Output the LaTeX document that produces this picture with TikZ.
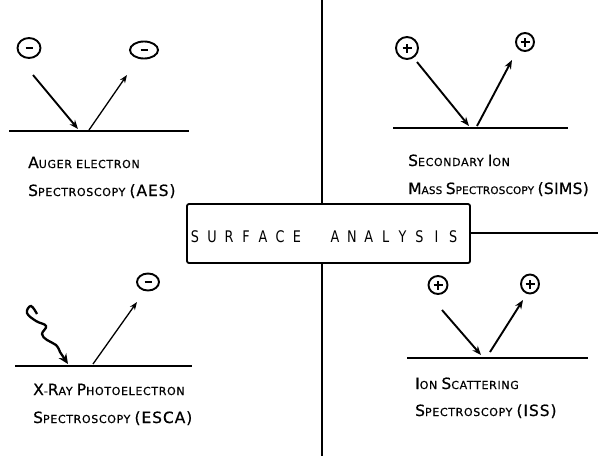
\documentclass[tikz,border=0pt]{standalone}
\usepackage{fontspec}
\setmainfont{DejaVu Sans}[LetterSpace=6,FakeBold=0.6]
\newfontfamily\titlefont{DejaVu Sans}[FakeStretch=0.8]
\usetikzlibrary{arrows.meta,shapes.geometric}
\newcommand\Bc[1]{{\fontsize{15.5}{16}\selectfont #1}}
\tikzset{
  lbl/.style={anchor=base west,inner sep=0pt,font=\fontsize{11}{12}\selectfont},
  surf/.style={line width=1.6pt},
  arr/.style={line width=1.9pt,-{Stealth[length=9pt,width=7pt]}},
  thinarr/.style={line width=1.3pt,-{Stealth[length=8pt,width=6pt]}},
  charge/.style={draw,ellipse,line width=1.9pt,inner sep=0pt},
  minus/.style={path picture={\draw[line width=1.8pt]
     ([xshift=-3.5pt]path picture bounding box.center) -- ([xshift=3.5pt]path picture bounding box.center);}},
  plus/.style={path picture={\draw[line width=1.8pt]
     ([xshift=-4.5pt]path picture bounding box.center) -- ([xshift=4.5pt]path picture bounding box.center)
     ([yshift=-4.5pt]path picture bounding box.center) -- ([yshift=4.5pt]path picture bounding box.center);}},
  mainbox/.style={draw,fill=white,line width=1.8pt,minimum width=283pt,minimum height=59pt,inner sep=0pt,rounded corners=2pt},
  letter/.style={anchor=base,inner sep=0pt,font=\titlefont\fontsize{16}{16}\selectfont},
  divider/.style={line width=1.3pt},
}
\begin{document}
\begin{tikzpicture}[x=1pt,y=-1pt]
\useasboundingbox (0,0) rectangle (598,461);

% dividing lines, then the central box over them
\coordinate (topend) at (322,0);
\coordinate (botend) at (322,456);
\coordinate (rightend) at (598,233);
\coordinate (boxtop) at (322,204);
\coordinate (boxbot) at (322,263);
\coordinate (boxright) at (470,233);
\draw[divider] (topend) -- (boxtop);
\draw[divider] (boxbot) -- (botend);
\draw[divider] (boxright) -- (rightend);
\node[mainbox] (box) at (328.5,233.5) {};

% widely spaced title letters
\foreach \ch [count=\i from 0] in {S,U,R,F,A,C,E}
  \node[letter] (ta\i) at (195+17*\i,242) {\ch};
\foreach \ch [count=\i from 0] in {A,N,A,L,Y,S,I,S}
  \node[letter] (tb\i) at (335+16.9*\i,242) {\ch};

% Auger electron spectroscopy
\node[charge,minus,minimum width=23pt,minimum height=20pt] (aesin) at (29,48) {};
\node[charge,minus,minimum width=28pt,minimum height=17pt] (aesout) at (144,50) {};
\coordinate (aesl) at (9,131); \coordinate (aesr) at (189,131);
\draw[surf] (aesl) -- (aesr);
\coordinate (a1s) at (33,75); \coordinate (a1e) at (78,129);
\coordinate (a2s) at (89,130); \coordinate (a2e) at (127,75);
\draw[arr] (a1s) -- (a1e);
\draw[thinarr] (a2s) -- (a2e);
\node[lbl] (aes1) at (28,168) {\Bc{A}UGER ELECTRON};
\node[lbl] (aes2) at (28,196) {\Bc{S}PECTROSCOPY \Bc{(AES)}};

% Secondary ion mass spectroscopy
\node[charge,plus,minimum width=22pt,minimum height=22pt] (simsin) at (407,48) {};
\node[charge,plus,minimum width=18pt,minimum height=18pt] (simsout) at (525,42) {};
\coordinate (simsl) at (393,128); \coordinate (simsr) at (568,128);
\draw[surf] (simsl) -- (simsr);
\coordinate (s1s) at (417,62); \coordinate (s1e) at (469,126);
\coordinate (s2s) at (477,126); \coordinate (s2e) at (512,60);
\draw[arr] (s1s) -- (s1e);
\draw[arr] (s2s) -- (s2e);
\node[lbl] (sims1) at (408,166) {\Bc{S}ECONDARY \Bc{I}ON};
\node[lbl,font=\fontsize{10.4}{12}\selectfont\addfontfeature{LetterSpace=2}] (sims2) at (408,194)
  {\Bc{M}ASS \Bc{S}PECTROSCOPY \Bc{(SIMS)}};

% X-ray photoelectron spectroscopy
\node[charge,minus,minimum width=22pt,minimum height=17pt] (escaout) at (148,282) {};
\coordinate (escal) at (15,366); \coordinate (escar) at (192,366);
\draw[surf] (escal) -- (escar);
\coordinate (w1) at (37,314);
\coordinate (w2) at (68,364);
\draw[line width=2.3pt,-{Stealth[length=10pt,width=9pt]}] plot[smooth,tension=0.7]
  coordinates {(w1) (31,306) (27,313) (36,321) (46,326) (42,334) (47,340) (56,345) (60,352)} -- (w2);
\coordinate (e1s) at (93,364); \coordinate (e1e) at (137,302);
\draw[thinarr] (e1s) -- (e1e);
\node[lbl] (esca1) at (33,395) {\Bc{X}-\Bc{R}AY \Bc{P}HOTOELECTRON};
\node[lbl] (esca2) at (33,423) {\Bc{S}PECTROSCOPY \Bc{(ESCA)}};

% Ion scattering spectroscopy
\node[charge,plus,minimum width=19pt,minimum height=18pt] (issin) at (438,285) {};
\node[charge,plus,minimum width=18pt,minimum height=19pt] (issout) at (530,284) {};
\coordinate (issl) at (407,358); \coordinate (issr) at (588,358);
\draw[surf] (issl) -- (issr);
\coordinate (i1s) at (442,310); \coordinate (i1e) at (481,355);
\coordinate (i2s) at (490,352); \coordinate (i2e) at (523,300);
\draw[arr] (i1s) -- (i1e);
\draw[arr] (i2s) -- (i2e);
\node[lbl] (iss1) at (415,389) {\Bc{I}ON \Bc{S}CATTERING};
\node[lbl] (iss2) at (415,416) {\Bc{S}PECTROSCOPY \Bc{(ISS)}};
\end{tikzpicture}
\end{document}
